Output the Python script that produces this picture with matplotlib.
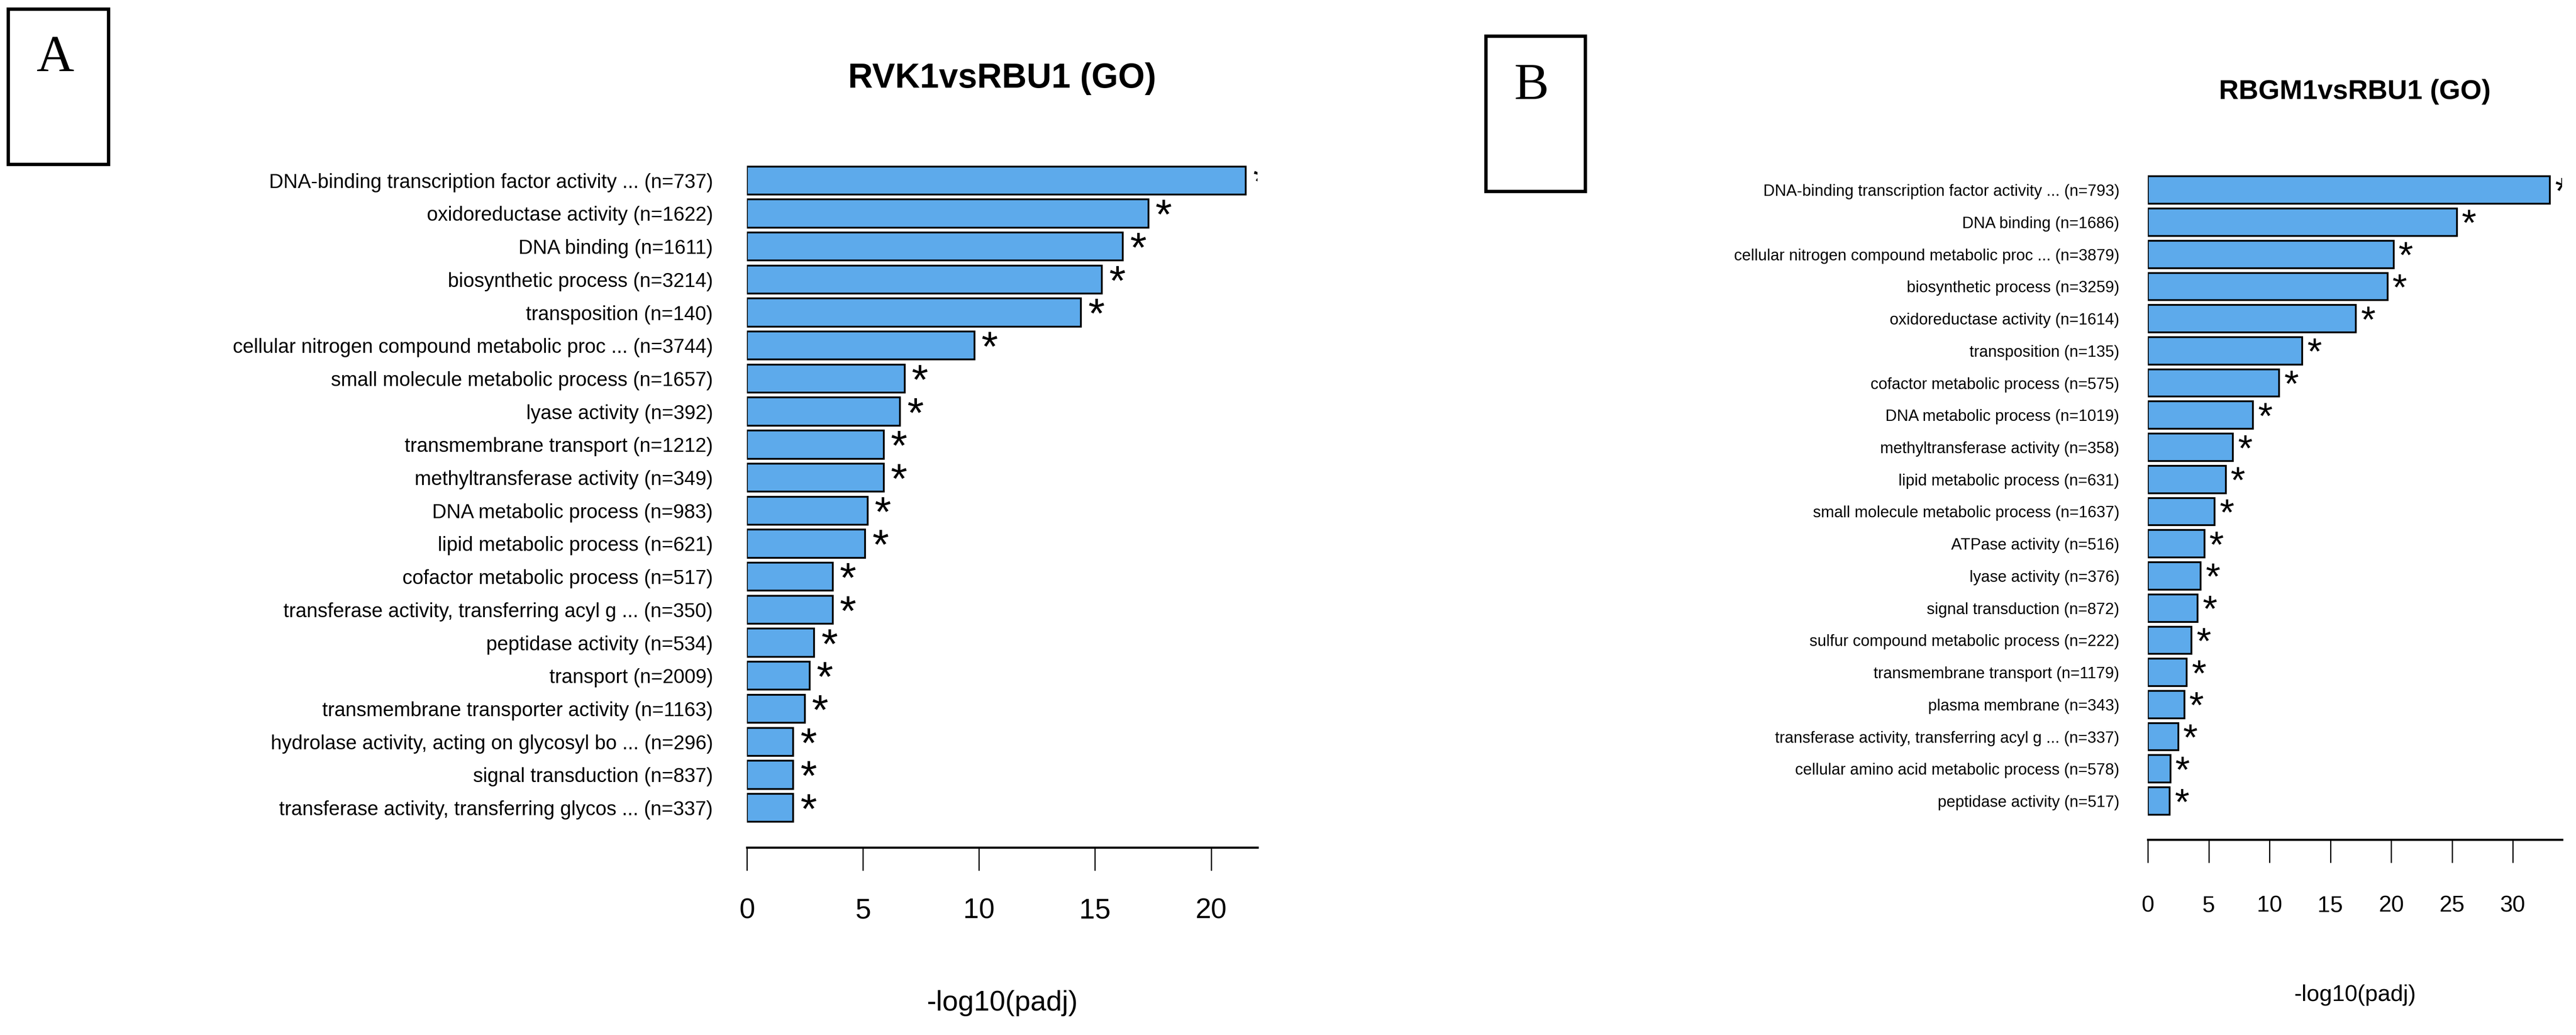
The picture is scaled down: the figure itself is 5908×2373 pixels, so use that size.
import numpy as np
import matplotlib
matplotlib.use("Agg")
import matplotlib.pyplot as plt
from matplotlib.patches import Rectangle
from matplotlib import font_manager as fm

# panel A: RVK1 vs RBU1
terms_a = [
    "DNA-binding transcription factor activity ... (n=737)",
    "oxidoreductase activity (n=1622)",
    "DNA binding (n=1611)",
    "biosynthetic process (n=3214)",
    "transposition (n=140)",
    "cellular nitrogen compound metabolic proc ... (n=3744)",
    "small molecule metabolic process (n=1657)",
    "lyase activity (n=392)",
    "transmembrane transport (n=1212)",
    "methyltransferase activity (n=349)",
    "DNA metabolic process (n=983)",
    "lipid metabolic process (n=621)",
    "cofactor metabolic process (n=517)",
    "transferase activity, transferring acyl g ... (n=350)",
    "peptidase activity (n=534)",
    "transport (n=2009)",
    "transmembrane transporter activity (n=1163)",
    "hydrolase activity, acting on glycosyl bo ... (n=296)",
    "signal transduction (n=837)",
    "transferase activity, transferring glycos ... (n=337)",
]
vals_a = [21.5, 17.3, 16.2, 15.3, 14.4, 9.8, 6.8, 6.6, 5.9, 5.9,
          5.2, 5.1, 3.7, 3.7, 2.9, 2.7, 2.5, 2.0, 2.0, 2.0]

# panel B: RBGM1 vs RBU1
terms_b = [
    "DNA-binding transcription factor activity ... (n=793)",
    "DNA binding (n=1686)",
    "cellular nitrogen compound metabolic proc ... (n=3879)",
    "biosynthetic process (n=3259)",
    "oxidoreductase activity (n=1614)",
    "transposition (n=135)",
    "cofactor metabolic process (n=575)",
    "DNA metabolic process (n=1019)",
    "methyltransferase activity (n=358)",
    "lipid metabolic process (n=631)",
    "small molecule metabolic process (n=1637)",
    "ATPase activity (n=516)",
    "lyase activity (n=376)",
    "signal transduction (n=872)",
    "sulfur compound metabolic process (n=222)",
    "transmembrane transport (n=1179)",
    "plasma membrane (n=343)",
    "transferase activity, transferring acyl g ... (n=337)",
    "cellular amino acid metabolic process (n=578)",
    "peptidase activity (n=517)",
]
vals_b = [33.05, 25.4, 20.2, 19.7, 17.1, 12.7, 10.8, 8.65, 7.0, 6.4,
          5.5, 4.65, 4.35, 4.1, 3.6, 3.2, 3.0, 2.5, 1.85, 1.8]

titles = ["RVK1vsRBU1 (GO)", "RBGM1vsRBU1 (GO)"]
xticks_a = [0, 5, 10, 15, 20]
xticks_b = [0, 5, 10, 15, 20, 25, 30]

# narrow font if there is one, otherwise shrink the regular one
names = {f.name for f in fm.fontManager.ttflist}
if "Liberation Sans Narrow" in names:
    sans = ["Liberation Sans Narrow", "DejaVu Sans"]
    k = 1.0
else:
    sans = ["Liberation Sans", "DejaVu Sans"]
    k = 0.82
bar_color = "#5DAAEB"

W, H = 5908, 2373
fig = plt.figure(figsize=(W / 100, H / 100), dpi=100)


def panel(rect, terms, vals, xmax, xticks, title, title_xy, title_fs,
          label_fs, tick_fs, tick_pad, lab_pad, star_fs, star_dx, xlabel_xy):
    ax = fig.add_axes(rect)
    y = np.arange(len(terms))
    ax.barh(y, vals, height=0.85, color=bar_color, edgecolor="black",
            linewidth=3)
    for yi, v in zip(y, vals):
        ax.annotate("*", xy=(v, yi), xytext=(star_dx, -0.36 * star_fs),
                    textcoords="offset points", ha="center", va="baseline",
                    fontsize=star_fs, family=sans, clip_on=True,
                    annotation_clip=False)
    ax.set_xlim(0, xmax)
    ax.set_ylim(20.2, -1.0)
    ax.set_yticks(y)
    ax.set_yticklabels(terms, fontsize=label_fs * k, family=sans)
    ax.tick_params(axis="y", length=0, pad=lab_pad)
    ax.set_xticks(xticks)
    ax.set_xticklabels([str(t) for t in xticks], fontsize=tick_fs * k,
                       family=sans)
    ax.tick_params(axis="x", length=38, width=2, pad=tick_pad,
                   direction="out")
    for s in ["left", "right", "top"]:
        ax.spines[s].set_visible(False)
    ax.spines["bottom"].set_linewidth(3.5)
    ax.patch.set_visible(False)
    fig.text(title_xy[0], title_xy[1], title, ha="center", va="center",
             fontsize=title_fs * k, fontweight="bold", family=sans)
    fig.text(xlabel_xy[0], xlabel_xy[1], "-log10(padj)", ha="center",
             va="center", fontsize=tick_fs * k, family=sans)
    return ax


panel([1713 / W, 1 - 1943 / H, 1171 / W, (1943 - 338) / H],
      terms_a, vals_a, 22.0, xticks_a, titles[0], (2298 / W, 1 - 180 / H),
      69, 40, 57, 45, 56, 70, 25, (2298 / W, 1 - 2300 / H))

panel([4926 / W, 1 - 1925 / H, 950 / W, (1925 - 362) / H],
      terms_b, vals_b, 34.05, xticks_b, titles[1], (5401 / W, 1 - 210 / H),
      55, 32, 46, 54, 47, 62, 20, (5401 / W, 1 - 2281 / H))

# panel letters in boxes
for (x0, y0, x1, y1), (lx, ly), letter in [
        ((19, 21, 249, 377), (127, 134), "A"),
        ((3408, 83, 3636, 439), (3512, 198), "B")]:
    fig.add_artist(Rectangle((x0 / W, 1 - y1 / H), (x1 - x0) / W,
                             (y1 - y0) / H, transform=fig.transFigure,
                             fill=False, edgecolor="black", linewidth=5.5))
    fig.text(lx / W, 1 - ly / H, letter, ha="center", va="center",
             fontsize=86, family=["Liberation Serif", "DejaVu Serif"])

fig.savefig("out.png", dpi=100, facecolor="white")
